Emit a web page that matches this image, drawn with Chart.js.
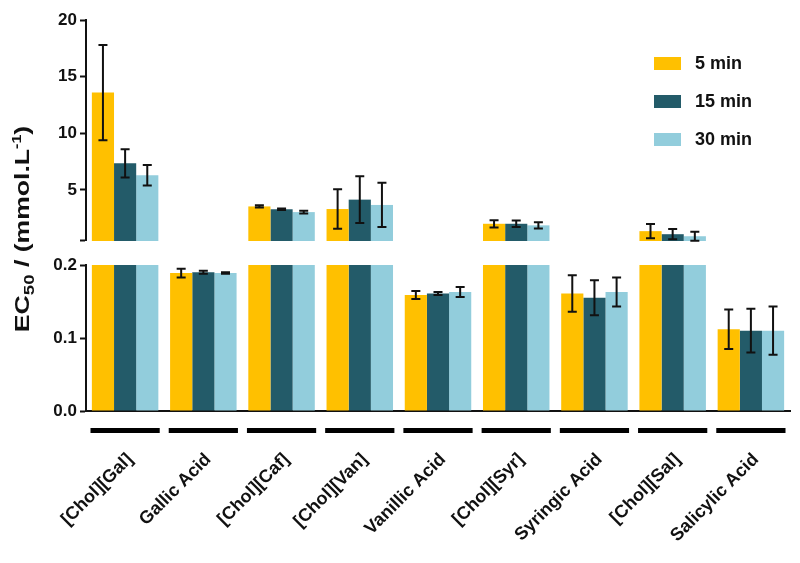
<!DOCTYPE html>
<html>
<head>
<meta charset="utf-8">
<script src="https://cdn.jsdelivr.net/npm/chart.js@4.4.1/dist/chart.umd.min.js"></script>
<style>
  html, body { margin: 0; background: #fff; }
  #wrap { width: 800px; height: 563px; }
</style>
</head>
<body>
<div id="wrap"><canvas id="chartEC50"></canvas></div>
<script>
// Dados (EC50 em mmol/L)
const categorias = ['[Chol][Gal]', 'Gallic Acid', '[Chol][Caf]', '[Chol][Van]', 'Vanillic Acid', '[Chol][Syr]', 'Syringic Acid', '[Chol][Sal]', 'Salicylic Acid'];
const series = ['5 min', '15 min', '30 min'];
const cores = ['#FFC000', '#235B69', '#92CDDC'];

const ec5  = [13.6, 0.189, 3.55, 3.32, 0.159, 2.02, 0.161, 1.37, 0.112];
const ec15 = [7.35, 0.190, 3.30, 4.15, 0.161, 2.02, 0.155, 1.10, 0.110];
const ec30 = [6.30, 0.189, 3.05, 3.68, 0.163, 1.88, 0.163, 0.92, 0.110];

const erro5  = [4.20, 0.006, 0.10, 1.74, 0.0055, 0.32, 0.025, 0.63, 0.027];
const erro15 = [1.25, 0.002, 0.07, 2.07, 0.002, 0.28, 0.024, 0.45, 0.030];
const erro30 = [0.90, 0.001, 0.12, 1.95, 0.007, 0.27, 0.020, 0.40, 0.033];

// eixo quebrado: painel de cima 0.5-20, painel de baixo 0-0.2
const ticksSup = [5, 10, 15, 20];
const ticksInf = [0, 0.1, 0.2];
const minSup = 0.5, maxSup = 20, quebra = 0.2;

const valores = [ec5, ec15, ec30];
const erros = [erro5, erro15, erro30];
const fonte = '"Liberation Sans", Arial, sans-serif';

// barras de cima (só quando passa da quebra) e de baixo (cortadas na quebra)
const datasetsSup = valores.map((v, s) => ({
    label: series[s], yAxisID: 'ySup', stack: 's' + s, backgroundColor: cores[s],
    data: v.map(x => x > quebra ? [minSup, x] : null)
}));
const datasetsInf = valores.map((v, s) => ({
    label: series[s], yAxisID: 'yInf', stack: 's' + s, backgroundColor: cores[s],
    data: v.map(x => Math.min(x, quebra))
}));

const barrasErro = {
    id: 'barrasErro',
    afterDatasetsDraw(chart) {
        const { ctx, scales } = chart;
        ctx.save();
        ctx.strokeStyle = '#111';
        ctx.lineWidth = 2;
        valores.forEach((serie, s) => {
            const meta = chart.getDatasetMeta(s + 3);
            serie.forEach((v, i) => {
                const e = erros[s][i];
                const eixo = v > quebra ? scales.ySup : scales.yInf;
                const x = meta.data[i].x;
                const y1 = eixo.getPixelForValue(v + e), y2 = eixo.getPixelForValue(v - e);
                ctx.beginPath();
                ctx.moveTo(x, y1); ctx.lineTo(x, y2);
                ctx.moveTo(x - 4.5, y1); ctx.lineTo(x + 4.5, y1);
                ctx.moveTo(x - 4.5, y2); ctx.lineTo(x + 4.5, y2);
                ctx.stroke();
            });
        });
        ctx.restore();
    }
};

const extras = {
    id: 'extras',
    afterDraw(chart) {
        const { ctx, scales: { x } } = chart;
        ctx.save();
        // traços pretos debaixo de cada grupo
        const larg = (x.getPixelForValue(1) - x.getPixelForValue(0)) * 0.885;
        ctx.fillStyle = '#000';
        categorias.forEach((c, i) => {
            const cx = x.getPixelForValue(i);
            ctx.fillRect(cx - larg / 2, x.top + 17, larg, 5);
        });

        // título do eixo y com subscrito/sobrescrito
        const partes = [['EC', 20, 0], ['50', 14, 5], [' / (mmol.L', 20, 0], ['-1', 12, -8], [')', 20, 0]];
        ctx.translate(29, 229);
        ctx.rotate(-Math.PI / 2);
        ctx.scale(1.33, 1);
        let total = 0;
        partes.forEach(([t, tam]) => { ctx.font = `bold ${tam}px ${fonte}`; total += ctx.measureText(t).width; });
        let px = -total / 2;
        ctx.fillStyle = '#111';
        ctx.textBaseline = 'alphabetic';
        partes.forEach(([t, tam, dy]) => {
            ctx.font = `bold ${tam}px ${fonte}`;
            ctx.fillText(t, px, dy);
            px += ctx.measureText(t).width;
        });
        ctx.restore();

        // legenda
        ctx.save();
        ctx.font = `bold 18px ${fonte}`;
        ctx.textBaseline = 'middle';
        series.forEach((nome, s) => {
            const y = 64 + s * 38;
            ctx.fillStyle = cores[s];
            ctx.fillRect(654, y - 7, 27, 13);
            ctx.fillStyle = '#111';
            ctx.fillText(nome, 695, y);
        });
        ctx.restore();
    }
};

const larguraY = (scale) => { scale.width = 46; };
const eixoY = {
    position: 'left', stack: 'v',
    afterFit: larguraY,
    border: { display: true, color: '#111', width: 2 },
    grid: { drawOnChartArea: false, drawTicks: true, tickLength: 6, tickColor: '#111', tickWidth: 2 },
    ticks: { color: '#111', padding: 3, font: { family: fonte, size: 17, weight: 'bold' } }
};

new Chart(document.getElementById('chartEC50'), {
    type: 'bar',
    data: { labels: categorias, datasets: [...datasetsSup, ...datasetsInf] },
    options: {
        responsive: true,
        maintainAspectRatio: false,
        animation: false,
        layout: { padding: { left: 40, right: 10, top: 20, bottom: 0 } },
        categoryPercentage: 0.85,
        barPercentage: 1.0,
        plugins: { legend: { display: false }, tooltip: { enabled: false } },
        scales: {
            x: {
                afterFit: (scale) => { scale.height = 152; },
                grid: { display: false },
                border: { display: true, color: '#111', width: 2 },
                ticks: {
                    color: '#111', padding: 30, maxRotation: 45, minRotation: 45, labelOffset: 5,
                    autoSkip: false, font: { family: fonte, size: 18, weight: 'bold' }
                }
            },
            // a ordem na pilha sai invertida: o último declarado fica em cima
            yInf: {
                ...eixoY, stackWeight: 146, min: 0, max: quebra,
                afterBuildTicks: (scale) => { scale.ticks = ticksInf.map(v => ({ value: v })); },
                ticks: { ...eixoY.ticks, callback: (v) => v.toFixed(1) }
            },
            yGap: {
                position: 'left', stack: 'v', stackWeight: 24, afterFit: larguraY,
                border: { display: false }, grid: { display: false }, ticks: { display: false }
            },
            ySup: {
                ...eixoY, stackWeight: 221, min: minSup, max: maxSup,
                afterBuildTicks: (scale) => { scale.ticks = [minSup, ...ticksSup].map(v => ({ value: v })); },
                ticks: { ...eixoY.ticks, callback: (v) => v === minSup ? '' : v }
            }
        }
    },
    plugins: [barrasErro, extras]
});
</script>
</body>
</html>
